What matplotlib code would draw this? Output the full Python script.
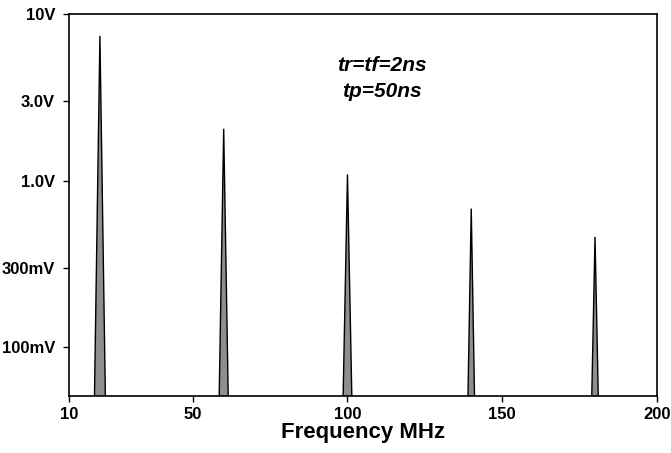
import matplotlib
matplotlib.use('Agg')
import matplotlib.pyplot as plt
from matplotlib import font_manager

# spectrum lines: frequency (MHz), peak amplitude (V), half base width (MHz)
freqs = [20, 60, 100, 140, 180]
peaks = [7.4, 2.05, 1.09, 0.68, 0.46]
half_w = [1.8, 1.5, 1.45, 1.1, 1.1]

xticks = [10, 50, 100, 150, 200]
yticks = [10, 3.0, 1.0, 0.3, 0.1]
ylabels = ['10V', '3.0V', '1.0V', '300mV', '100mV']

names = {f.name for f in font_manager.fontManager.ttflist}
fam = 'Liberation Sans Narrow' if 'Liberation Sans Narrow' in names else 'Liberation Sans'
plt.rcParams['font.family'] = [fam, 'DejaVu Sans']

ymin, ymax = 0.051, 10

fig = plt.figure(figsize=(6.71, 4.53), dpi=100)
ax = fig.add_axes([0.1028, 0.1258, 0.8762, 0.8432])
ax.set_yscale('log')

for f, p, w in zip(freqs, peaks, half_w):
    ax.fill([f - w, f, f + w], [ymin * 0.9, p, ymin * 0.9],
            facecolor='#8e8e8e', edgecolor='black', lw=1.0, zorder=2)

ax.set_xlim(10, 200)
ax.set_ylim(ymin, ymax)
ax.set_xticks(xticks)
ax.set_xticklabels([str(t) for t in xticks], fontsize=12, fontweight='bold')
ax.set_yticks(yticks)
ax.set_yticklabels(ylabels, fontsize=12, fontweight='bold')
ax.yaxis.set_minor_locator(matplotlib.ticker.NullLocator())
ax.tick_params(axis='x', length=4, width=1, pad=4)
ax.tick_params(axis='y', length=4, width=1, pad=6)
ax.set_xlabel('Frequency MHz', fontsize=16, fontweight='bold', labelpad=0)
for s in ax.spines.values():
    s.set_linewidth(1.2)

ax.text(0.532, 0.851, 'tr=tf=2ns', transform=ax.transAxes, ha='center', va='baseline',
        fontsize=15, fontweight='bold', style='italic')
ax.text(0.532, 0.783, 'tp=50ns', transform=ax.transAxes, ha='center', va='baseline',
        fontsize=15, fontweight='bold', style='italic')

fig.savefig('out.png', dpi=100)
